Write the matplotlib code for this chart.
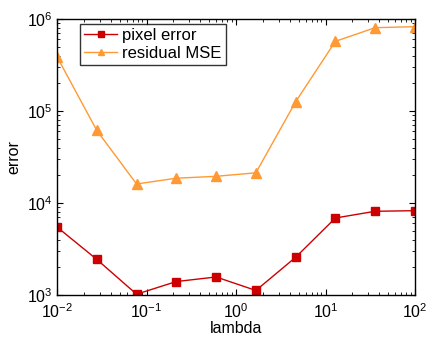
import matplotlib
import matplotlib.pyplot as plt

matplotlib.use('Agg')

plt.rcParams['font.family'] = ['Liberation Sans', 'DejaVu Sans']
plt.rcParams['mathtext.fontset'] = 'custom'
plt.rcParams['mathtext.rm'] = 'Liberation Sans'
plt.rcParams['mathtext.it'] = 'Liberation Sans:italic'
plt.rcParams['mathtext.bf'] = 'Liberation Sans:bold'

lambdas = [0.01, 0.0278, 0.0774, 0.215, 0.599, 1.668, 4.64, 12.9, 35.9, 100.0]
pixel_error = [5480, 2440, 1020, 1400, 1570, 1120, 2570, 6870, 8130, 8250]
residual_mse = [389000, 61600, 16100, 18600, 19500, 21300, 126000, 572000, 805000, 825000]

red = '#cc0000'
orange = '#ff9933'

fig = plt.figure(figsize=(4.26, 3.40), dpi=100)
ax = fig.add_axes([57/426, 45/340, 358/426, 276/340])

ax.loglog(lambdas, pixel_error, '-s', color=red, lw=1, ms=6, mec=red, mfc=red, label='pixel error')
ax.loglog(lambdas, residual_mse, '-^', color=orange, lw=1, ms=7, mec=orange, mfc=orange, label='residual MSE')

ax.set_xlim(1e-2, 1e2)
ax.set_ylim(1e3, 1e6)
ax.set_xlabel('lambda', fontsize=11.5, labelpad=0)
ax.set_ylabel('error', fontsize=11.5, labelpad=4)

ax.tick_params(which='both', direction='in', top=True, right=True, labelsize=11.5)
ax.tick_params(which='major', length=4)
ax.tick_params(which='minor', length=2)
ax.tick_params(axis='x', pad=5)
ax.tick_params(axis='y', pad=3)
for s in ax.spines.values():
    s.set_linewidth(1)

leg = ax.legend(loc='upper left', fontsize=12, fancybox=False, edgecolor='black',
                handlelength=2.0, borderpad=0.25, labelspacing=0.15, borderaxespad=0.3,
                handletextpad=0.3, markerscale=0.65, bbox_to_anchor=(0.05, 1.0))
leg.get_frame().set_linewidth(1)

fig.savefig('out.png', dpi=100)
